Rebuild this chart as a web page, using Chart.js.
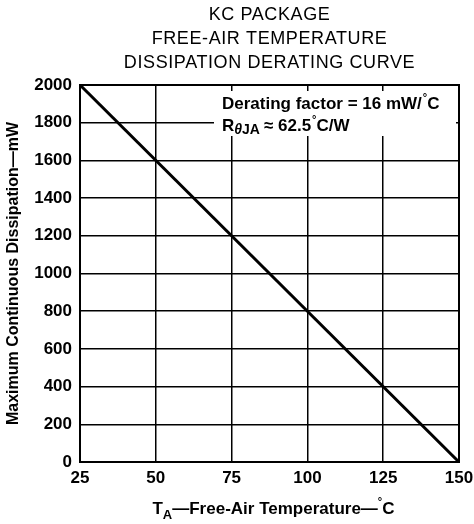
<!DOCTYPE html>
<html>
<head>
<meta charset="utf-8">
<script src="https://cdn.jsdelivr.net/npm/chart.js@4.4.0/dist/chart.umd.min.js"></script>
<style>
  html, body { margin: 0; padding: 0; background: #fff; }
  #wrap { width: 474px; height: 524px; }
</style>
</head>
<body>
<div id="wrap"><canvas id="grafico" width="474" height="524"></canvas></div>
<script>
// datos de la curva
temperaturas = [25, 150];
disipacion = [2000, 0];
ticksX = [25, 50, 75, 100, 125, 150];
ticksY = [0, 200, 400, 600, 800, 1000, 1200, 1400, 1600, 1800, 2000];
titulo = ["KC PACKAGE", "FREE-AIR TEMPERATURE", "DISSIPATION DERATING CURVE"];

puntos = [];
for (i = 0; i < temperaturas.length; i++) {
    puntos.push({x: temperaturas[i], y: disipacion[i]});
}

fuente = '"Liberation Sans", Arial, sans-serif';

// textos que lleva el canvas a mano (subindices y grados)
textosExtra = {
    id: 'textosExtra',
    afterDraw(chart) {
        const c = chart.ctx;
        const area = chart.chartArea;
        const centro = (area.left + area.right) / 2;
        c.save();
        c.fillStyle = '#000';

        // titulo
        c.font = '18px ' + fuente;
        c.letterSpacing = '0.6px';
        c.textAlign = 'center';
        c.textBaseline = 'alphabetic';
        c.fillText(titulo[0], centro, 20);
        c.fillText(titulo[1], centro, 44);
        c.fillText(titulo[2], centro, 68);
        c.letterSpacing = '0px';

        // caja con el factor
        c.fillStyle = '#fff';
        c.fillRect(214, 91, 242, 45);
        c.fillStyle = '#000';
        c.textAlign = 'left';
        c.font = 'bold 17px ' + fuente;
        let x = 222;
        let s = 'Derating factor = 16 mW/';
        c.fillText(s, x, 109);
        x += c.measureText(s).width + 1;
        c.font = 'bold 11px ' + fuente;
        c.fillText('°', x, 101);
        x += c.measureText('°').width;
        c.font = 'bold 17px ' + fuente;
        c.fillText('C', x, 109);

        x = 222;
        c.fillText('R', x, 131);
        x += c.measureText('R').width;
        c.font = 'italic bold 14px ' + fuente;
        c.fillText('θ', x, 134);
        x += c.measureText('θ').width;
        c.font = 'bold 14px ' + fuente;
        c.fillText('JA', x, 134);
        x += c.measureText('JA').width + 4;
        c.font = 'bold 17px ' + fuente;
        s = '≈ 62.5';
        c.fillText(s, x, 131);
        x += c.measureText(s).width + 1;
        c.font = 'bold 11px ' + fuente;
        c.fillText('°', x, 123);
        x += c.measureText('°').width;
        c.font = 'bold 17px ' + fuente;
        c.fillText('C/W', x, 131);

        // titulo eje x
        c.font = 'bold 17px ' + fuente;
        const p1 = 'T', p2 = 'A', p3 = '—Free-Air Temperature—', p4 = '°', p5 = 'C';
        const w1 = c.measureText(p1).width;
        const w3 = c.measureText(p3).width;
        const w5 = c.measureText(p5).width;
        c.font = 'bold 13px ' + fuente;
        const w2 = c.measureText(p2).width;
        c.font = 'bold 11px ' + fuente;
        const w4 = c.measureText(p4).width;
        x = centro + 4 - (w1 + w2 + w3 + w4 + w5) / 2;
        c.font = 'bold 17px ' + fuente;
        c.fillText(p1, x, 514); x += w1;
        c.font = 'bold 13px ' + fuente;
        c.fillText(p2, x, 519); x += w2;
        c.font = 'bold 17px ' + fuente;
        c.fillText(p3, x, 514); x += w3;
        c.font = 'bold 11px ' + fuente;
        c.fillText(p4, x, 505); x += w4;
        c.font = 'bold 17px ' + fuente;
        c.fillText(p5, x, 514);
        c.restore();
    }
};

const ctx = document.getElementById('grafico');

new Chart(ctx, {
  type: 'line',
  data: {
    datasets: [{
      label: 'Disipacion',
      data: puntos,
      borderColor: '#000',
      borderWidth: 3,
      pointRadius: 0,
      fill: false,
      tension: 0
    }]
  },
  options: {
    responsive: false,
    animation: false,
    layout: { padding: { top: 85, right: 15, bottom: 0, left: 0 } },
    plugins: {
      legend: { display: false },
      tooltip: { enabled: false }
    },
    scales: {
      x: {
        type: 'linear',
        min: 25,
        max: 150,
        afterFit(scale) {
          scale.height = 62;
          scale.paddingLeft = 0;
          scale.paddingRight = 0;
        },
        afterBuildTicks(scale) { scale.ticks = ticksX.map(v => ({value: v})); },
        border: { display: true, color: '#000', width: 2 },
        grid: { color: '#000', lineWidth: 1.5, drawTicks: false },
        ticks: {
          color: '#000',
          padding: 6,
          font: { family: fuente, size: 17, weight: 'bold' }
        }
      },
      y: {
        min: 0,
        max: 2000,
        afterFit(scale) { scale.width = 80; },
        afterBuildTicks(scale) { scale.ticks = ticksY.map(v => ({value: v})); },
        border: { display: true, color: '#000', width: 2 },
        grid: { color: '#000', lineWidth: 1.5, drawTicks: false },
        ticks: {
          color: '#000',
          padding: 8,
          callback: v => String(v),
          font: { family: fuente, size: 17, weight: 'bold' }
        },
        title: {
          display: true,
          text: 'Maximum Continuous Dissipation—mW',
          color: '#000',
          padding: { top: 4, bottom: 0 },
          font: { family: fuente, size: 16, weight: 'bold' }
        }
      }
    }
  },
  plugins: [textosExtra, {
    id: 'marco',
    afterDraw(chart) {
      const c = chart.ctx, a = chart.chartArea;
      c.save();
      c.strokeStyle = '#000';
      c.lineWidth = 2;
      c.strokeRect(a.left, a.top, a.right - a.left, a.bottom - a.top);
      c.restore();
    }
  }]
});
</script>
</body>
</html>
